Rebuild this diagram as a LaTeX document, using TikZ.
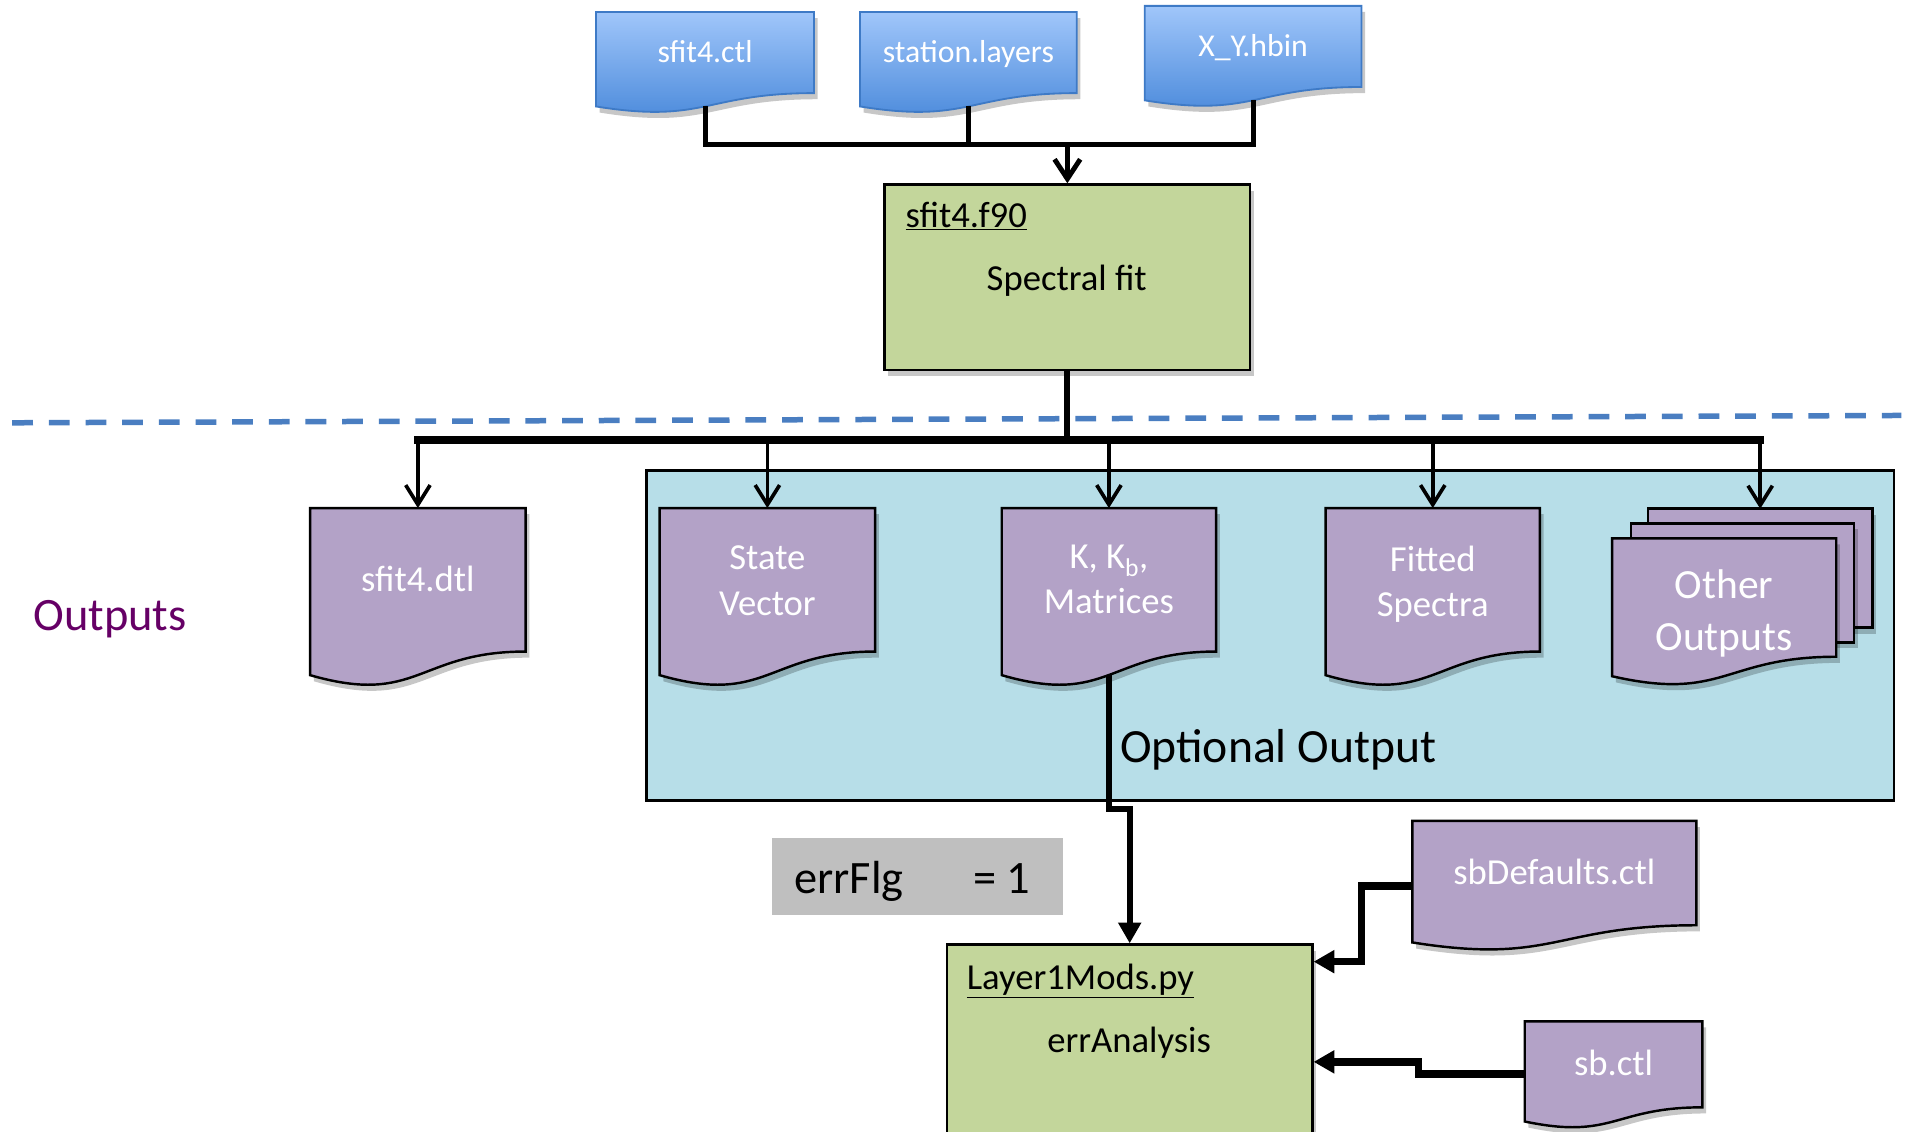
\documentclass[tikz,border=0pt]{standalone}
\usepackage{fontspec}
\setmainfont{Carlito}
\usetikzlibrary{calc,arrows.meta,shadows}
\pgfdeclarelayer{back}
\pgfdeclarelayer{docs}
\pgfsetlayers{back,docs,main}

\definecolor{gbox}{RGB}{195,214,155}
\definecolor{pdoc}{RGB}{179,162,199}
\definecolor{obox}{RGB}{183,222,232}
\definecolor{grayf}{RGB}{191,191,191}
\definecolor{btop}{RGB}{160,198,250}
\definecolor{bbot}{RGB}{72,136,218}
\definecolor{bline}{RGB}{62,122,198}
\definecolor{dashblue}{RGB}{74,126,193}
\definecolor{outpurple}{RGB}{102,0,102}

\newcommand\docshape[2]{%
  \begin{pgfonlayer}{docs}
  \path[#2] (#1.north west) -- (#1.north east) -- (#1.south east)
    .. controls (#1.south) and ($(#1.south)!-0.3815!(#1.north)$)
    .. ($(#1.south west)!-0.1646!(#1.north west)$) -- cycle;
  \end{pgfonlayer}
  \coordinate (#1-w) at ($(#1.south)!-0.1637!(#1.north)$);}
% lower a text block without changing the node size
\newcommand\dtext[2]{\raisebox{-#1pt}[\height][\depth]{\begin{tabular}{@{}c@{}}#2\end{tabular}}}

\tikzset{
  holder/.style={inner sep=0pt, align=center},
  bdocn/.style={holder, text=white, font=\fontsize{26}{30}\selectfont},
  pdocn/.style={holder, text=white, font=\fontsize{30}{37}\selectfont},
  shd/.style={drop shadow={shadow xshift=3pt, shadow yshift=-5pt, opacity=0.22, fill=black}},
  pfill/.style={fill=pdoc, draw=black, line width=2pt, line join=miter, shd},
  bfill/.style={top color=btop, bottom color=bbot, draw=bline, line width=1.5pt, shd},
  greenbox/.style={draw=black, line width=2pt, fill=gbox, inner sep=0pt, minimum width=299pt, minimum height=152pt, shd},
  conn/.style={line width=4pt, black},
  busv/.style={line width=3pt, black, -{Straight Barb[length=16pt, width=20pt, line width=3pt]}},
  thickarrow/.style={black, -{Triangle[length=17pt, width=18pt]}},
  lbl/.style={inner sep=0pt, font=\fontsize{30}{36}\selectfont},
}

\begin{document}
\begin{tikzpicture}[x=1pt, y=-1pt]
\useasboundingbox (0,0) rectangle (1568,926);

% ---- input documents (blue)
\node[bdocn, minimum width=178pt, minimum height=66pt] (ctl) at (577,43) {\dtext{2}{sfit4.ctl}};
\docshape{ctl}{bfill}
\node[bdocn, minimum width=177pt, minimum height=66pt] (lay) at (792.5,43) {\dtext{2}{station.layers}};
\docshape{lay}{bfill}
\node[bdocn, minimum width=177pt, minimum height=66pt] (hbin) at (1025.5,38) {\dtext{2}{X\_Y.hbin}};
\docshape{hbin}{bfill}

% ---- sfit4.f90
\node[greenbox] (f90) at (873.5,227) {};
\node[lbl, anchor=west] (f90t) at (741,177) {\underline{sfit4.f90}};
\node[lbl] (f90s) at (873,230) {Spectral fit};

% ---- dashed separator
\coordinate (dashL) at (10,346);
\coordinate (dashR) at (1556,340);
\draw[dashblue, line width=4.5pt, dash pattern=on 17pt off 13pt] (dashL) -- (dashR);

% ---- optional output box
\begin{pgfonlayer}{back}
\node[draw=black, line width=2pt, fill=obox, inner sep=0pt, minimum width=1021pt, minimum height=270pt] (optbox) at (1039.5,520) {};
\end{pgfonlayer}
\node[inner sep=0pt, font=\fontsize{39}{44}\selectfont] (optl) at (1046,614) {Optional Output};

% ---- outputs label
\node[inner sep=0pt, text=outpurple, font=\fontsize{38}{44}\selectfont] (outl) at (90,507) {Outputs};

% ---- output documents (purple)
\node[pdocn, minimum width=176pt, minimum height=117pt] (dtl) at (342,474.5) {\dtext{2}{sfit4.dtl}};
\docshape{dtl}{pfill}
\node[pdocn, minimum width=176pt, minimum height=117pt] (sv) at (628,474.5) {\dtext{3}{State\\Vector}};
\docshape{sv}{pfill}
\node[pdocn, minimum width=175pt, minimum height=117pt] (km) at (907.5,474.5) {\dtext{2}{K, K\textsubscript{b},\\Matrices}};
\docshape{km}{pfill}
\node[pdocn, minimum width=175pt, minimum height=117pt] (fs) at (1172.5,474.5) {\dtext{4}{Fitted\\Spectra}};
\docshape{fs}{pfill}

% other outputs (stack)
\node[holder, minimum width=183pt, minimum height=97pt] (ooback) at (1440.5,465) {};
\node[holder, minimum width=182pt, minimum height=97pt] (oomid) at (1426,477) {};
\node[holder, minimum width=183pt, minimum height=96.5pt] (oo) at (1411,489) {};
\begin{pgfonlayer}{docs}
\path[pfill] (ooback.north west) rectangle (ooback.south east);
\path[pfill] (oomid.north west) rectangle (oomid.south east);
\end{pgfonlayer}
\docshape{oo}{pfill}
\node[holder, text=white, font=\fontsize{34}{42}\selectfont] (ootxt) at (1411,502) {Other\\Outputs};

% ---- side inputs
\node[pdocn, minimum width=232pt, minimum height=85pt] (sbd) at (1272,714.5) {\dtext{2}{sbDefaults.ctl}};
\docshape{sbd}{pfill}
\node[pdocn, minimum width=145pt, minimum height=70pt] (sb) at (1320.5,871) {\dtext{2}{sb.ctl}};
\docshape{sb}{pfill}

% ---- errFlg
\node[fill=grayf, inner sep=0pt, minimum width=238pt, minimum height=63pt, font=\fontsize{38}{44}\selectfont] (errflg) at (751,717.5) {\raisebox{-4pt}[\height][\depth]{\makebox[202pt][l]{errFlg\hspace{57pt}= 1}}};

% ---- Layer1Mods
\node[greenbox, minimum height=170pt] (l1m) at (924.5,858) {};
\node[lbl, anchor=west] (l1mt) at (791,803) {\underline{Layer1Mods.py}};
\node[lbl] (l1ms) at (924,853) {errAnalysis};

% ---- connectors: inputs to sfit4.f90
\coordinate (j1) at (873.5,118);
\draw[conn] (ctl-w) |- (j1);
\draw[conn] (lay-w) -- (lay-w |- j1);
\draw[conn] (hbin-w) |- (j1);
\draw[conn, -{Straight Barb[length=16pt, width=21pt, line width=4pt]}] (j1) -- (f90.north);

% ---- bus to outputs
\coordinate (bus) at (873.5,360);
\draw[line width=5pt] (f90.south) -- (bus);
\draw[line width=6pt, line cap=rect] (dtl.north |- bus) -- (ooback.north |- bus);
\foreach \n in {dtl,sv,km,fs,ooback}
  \draw[busv] (\n.north |- bus) -- (\n.north);

% ---- K matrices to Layer1Mods
\coordinate (kj) at (924.5,662);
\draw[thickarrow, line width=5pt] (km-w) |- (kj) -- (l1m.north);

% ---- sbDefaults and sb.ctl to Layer1Mods
\coordinate (sbdj) at (1114,787);
\draw[thickarrow, line width=6pt] ($(sbd.west)+(0,10.5)$) -| (sbdj) -- (l1m.east |- sbdj);
\coordinate (sbj) at (1161,869);
\draw[thickarrow, line width=6pt] ($(sb.west)+(0,8)$) -| (sbj) -- (l1m.east |- sbj);
\end{tikzpicture}
\end{document}
